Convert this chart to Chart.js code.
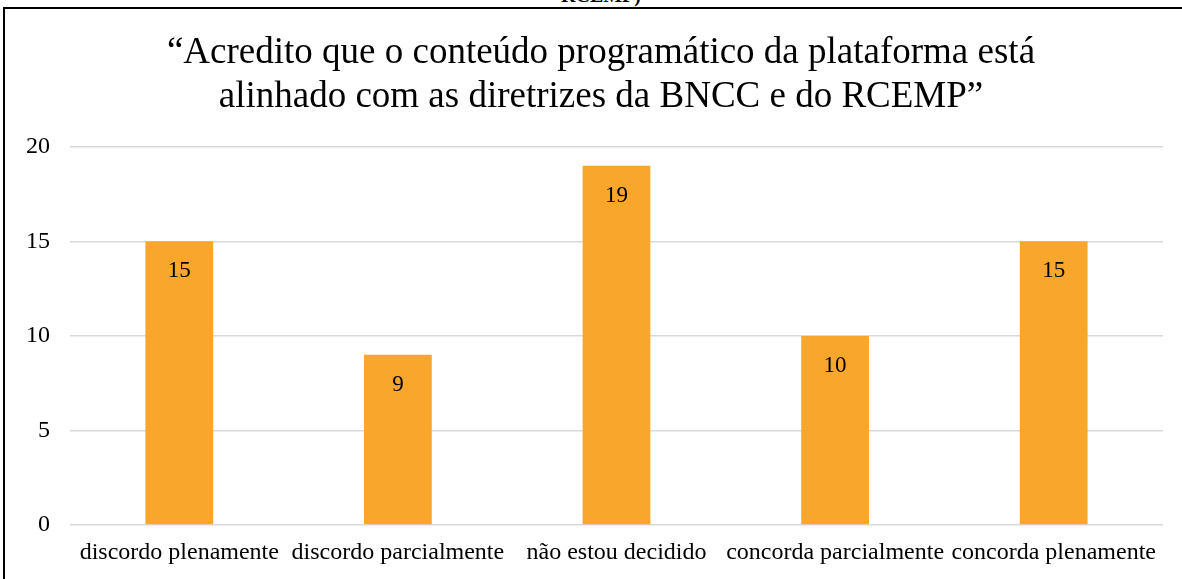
<!DOCTYPE html>
<html>
<head>
<meta charset="utf-8">
<script src="https://cdn.jsdelivr.net/npm/chart.js@4.4.0/dist/chart.umd.min.js"></script>
<style>
  body { margin: 0; background: #fff; overflow: hidden; width: 1182px; height: 579px; position: relative; }
  #frame { position: absolute; left: 3px; top: 7px; width: 1300px; height: 700px; border-left: 2px solid #000; border-top: 2px solid #000; }
  #wrap { position: absolute; left: 0; top: 0; width: 1202px; height: 579px; }
  #cut { position: absolute; top: -16px; left: 0; width: 1202px; text-align: center; font: bold 20px "Liberation Serif", serif; }
</style>
</head>
<body>
<div id="cut">RCEMP)</div>
<div id="frame"></div>
<div id="wrap"><canvas id="myChart" width="1202" height="579"></canvas></div>
<script>
// categorias e valores
var categorias = ['discordo plenamente', 'discordo parcialmente', 'não estou decidido', 'concorda parcialmente', 'concorda plenamente'];
var respostas = [15, 9, 19, 10, 15];
var ticksY = [0, 5, 10, 15, 20];

var fonte = '"Liberation Serif", "Times New Roman", serif';

// escreve o valor dentro do topo de cada barra
var rotulos = {
  id: 'rotulos',
  afterDatasetsDraw: function(chart) {
    var ctx = chart.ctx;
    var meta = chart.getDatasetMeta(0);
    ctx.save();
    ctx.fillStyle = '#000';
    ctx.font = '23px ' + fonte;
    ctx.textAlign = 'center';
    ctx.textBaseline = 'middle';
    meta.data.forEach(function(bar, i) {
      ctx.fillText(respostas[i], bar.x, bar.y + 30);
    });
    ctx.restore();
  }
};

var myChart = new Chart(document.getElementById('myChart'), {
  type: 'bar',
  data: {
    labels: categorias,
    datasets: [{
      data: respostas,
      backgroundColor: '#F9A62C',
      barPercentage: 0.62,
      categoryPercentage: 0.5
    }]
  },
  options: {
    responsive: false,
    animation: false,
    layout: { padding: { top: 31, right: 0, bottom: 10, left: 0 } },
    plugins: {
      legend: { display: false },
      tooltip: { enabled: false },
      title: {
        display: true,
        text: ['“Acredito que o conteúdo programático da plataforma está', 'alinhado com as diretrizes da BNCC e do RCEMP”'],
        color: '#000',
        font: { family: fonte, size: 37, weight: 'normal', lineHeight: 1.2 },
        padding: { top: 0, bottom: 27 }
      }
    },
    scales: {
      x: {
        afterFit: function(scale) { scale.height = 44; },
        grid: { display: false, drawTicks: false },
        border: { display: false },
        ticks: { color: '#000', font: { family: fonte, size: 24 }, padding: 13, maxRotation: 0, autoSkip: false }
      },
      y: {
        min: 0,
        max: 20,
        afterBuildTicks: function(scale) {
          scale.ticks = ticksY.map(function(v) { return { value: v }; });
        },
        afterFit: function(scale) { scale.width = 70; },
        grid: { color: '#D9D9D9', lineWidth: 1.5, drawTicks: false },
        border: { display: false },
        ticks: { color: '#000', font: { family: fonte, size: 24 }, padding: 20 }
      },
      // eixo vazio a direita so para deixar a margem
      margem: {
        position: 'right',
        min: 0,
        max: 20,
        afterFit: function(scale) { scale.width = 39; },
        grid: { display: false, drawTicks: false },
        border: { display: false },
        ticks: { display: false }
      }
    }
  },
  plugins: [rotulos]
});
</script>
</body>
</html>
